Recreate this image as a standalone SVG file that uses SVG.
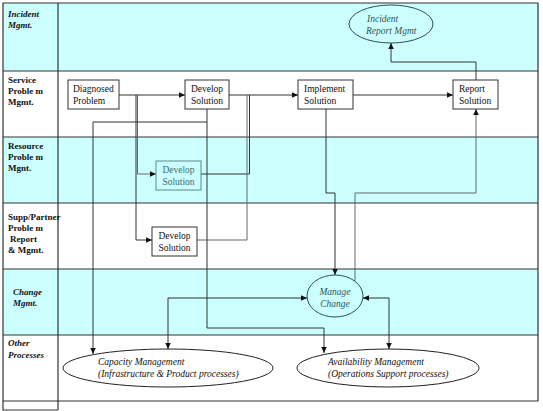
<svg xmlns="http://www.w3.org/2000/svg" width="543" height="411" viewBox="0 0 543 411">
<style>
.lane{fill:#CCFFFF;stroke:none}
.border{stroke:#333;stroke-width:1.2;fill:none}
.lab{font-family:"Liberation Serif","Times New Roman",serif;font-size:9px;font-weight:bold;fill:#111}
.labi{font-family:"Liberation Serif","Times New Roman",serif;font-size:9px;font-weight:bold;font-style:italic;fill:#111}
.box{fill:#fff;stroke:#333;stroke-width:1}
.boxc{fill:#CCFFFF;stroke:#5a8a8a;stroke-width:1}
.t{font-family:"Liberation Serif","Times New Roman",serif;font-size:9.5px;fill:#111}
.tc{font-family:"Liberation Serif","Times New Roman",serif;font-size:9.5px;fill:#3d6b6b}
.ti{font-family:"Liberation Serif","Times New Roman",serif;font-size:9.5px;font-style:italic;fill:#111}
.tic{font-family:"Liberation Serif","Times New Roman",serif;font-size:9.5px;font-style:italic;fill:#2f5555}
.ell{fill:#fff;stroke:#222;stroke-width:1}
.ellc{fill:#CCFFFF;stroke:#2f4f4f;stroke-width:1}
.c{fill:none;stroke:#333;stroke-width:1}
.cg{fill:none;stroke:#666;stroke-width:1}
.a{marker-end:url(#arr)}
.b{marker-start:url(#arr);marker-end:url(#arr)}
</style>
<defs>
<marker id="arr" markerUnits="userSpaceOnUse" markerWidth="7" markerHeight="6" refX="6" refY="2.75" orient="auto-start-reverse">
<path d="M0,0 L6,2.75 L0,5.5 z" fill="#111"/>
</marker>
</defs>
<g id="lanes">
<rect class="lane" x="3" y="3" width="535" height="68"/>
<rect class="lane" x="3" y="137" width="535" height="66"/>
<rect class="lane" x="3" y="269" width="535" height="66"/>
<path class="border" d="M3,3 H538 V401 H3 Z M3,71 H538 M3,137 H538 M3,203 H538 M3,269 H538 M3,335 H538 M58,3 V410 M3,401 V410 H58"/>
<text class="labi" x="8" y="17">Incident</text>
<text class="labi" x="8" y="28">Mgmt.</text>
<text class="lab" x="8" y="83">Service</text>
<text class="lab" x="8" y="94">Proble m</text>
<text class="lab" x="8" y="105">Mgmt.</text>
<text class="lab" x="8" y="149">Resource</text>
<text class="lab" x="8" y="160">Proble m</text>
<text class="lab" x="8" y="171">Mgnt.</text>
<text class="lab" x="8" y="220">Supp/Partner</text>
<text class="lab" x="8" y="231">Proble m</text>
<text class="lab" x="10" y="242">Report</text>
<text class="lab" x="8" y="253">&amp; Mgmt.</text>
<text class="labi" x="13" y="295">Change</text>
<text class="labi" x="13" y="306">Mgmt.</text>
<text class="labi" x="8" y="346">Other</text>
<text class="labi" x="8" y="358">Processes</text>
</g>
<g id="connectors">
<path class="c a" d="M119,95 H185"/>
<path class="c a" d="M229,95 H298"/>
<path class="c a" d="M353,95 H453"/>
<path class="c a" d="M476,80 V62 H391 V43"/>
<path class="c a" d="M136,95 V240 H152"/>
<path class="cg a" d="M137.5,95 V174 H156"/>
<path class="c" d="M201,174 H249.5 V95"/>
<path class="cg" d="M197,240 H247 V95"/>
<path class="c a" d="M207,109 V122 H93 V354"/>
<path class="c a" d="M207,122 V328 H324 V353"/>
<path class="c a" d="M326,109 V193 H335 V275"/>
<path class="cg a" d="M355,281 V193 H476 V109"/>
<path class="c b" d="M168,349 V298 H307"/>
<path class="c b" d="M363,298 H389 V349"/>
</g>
<g id="incident-report">
<ellipse class="ellc" cx="391" cy="24" rx="42" ry="19"/>
<text class="tic" x="367" y="22">Incident</text>
<text class="tic" x="366" y="34">Report Mgmt</text>
</g>
<g id="diagnosed">
<rect class="box" x="68" y="80" width="51" height="29"/>
<text class="t" x="73" y="92">Diagnosed</text>
<text class="t" x="73" y="104">Problem</text>
</g>
<g id="develop-service">
<rect class="box" x="185" y="80" width="44" height="29"/>
<text class="t" x="207" y="92" text-anchor="middle">Develop</text>
<text class="t" x="207" y="104" text-anchor="middle">Solution</text>
</g>
<g id="implement">
<rect class="box" x="298" y="80" width="55" height="29"/>
<text class="t" x="304" y="92">Implement</text>
<text class="t" x="304" y="104">Solution</text>
</g>
<g id="report">
<rect class="box" x="453" y="80" width="45" height="29"/>
<text class="t" x="459" y="92">Report</text>
<text class="t" x="459" y="104">Solution</text>
</g>
<g id="develop-resource">
<rect class="boxc" x="156" y="161" width="45" height="29"/>
<text class="tc" x="178.5" y="173" text-anchor="middle">Develop</text>
<text class="tc" x="178.5" y="185" text-anchor="middle">Solution</text>
</g>
<g id="develop-supp">
<rect class="box" x="152" y="227" width="45" height="29"/>
<text class="t" x="174.5" y="239" text-anchor="middle">Develop</text>
<text class="t" x="174.5" y="251" text-anchor="middle">Solution</text>
</g>
<g id="manage-change">
<ellipse class="ellc" cx="335" cy="296" rx="28" ry="21"/>
<text class="tic" x="335" y="295" text-anchor="middle">Manage</text>
<text class="tic" x="335" y="307" text-anchor="middle">Change</text>
</g>
<g id="capacity">
<ellipse class="ell" cx="168" cy="368" rx="105" ry="19"/>
<text class="ti" x="98" y="365">Capacity Management</text>
<text class="ti" x="98" y="377">(Infrastructure &amp; Product processes)</text>
</g>
<g id="availability">
<ellipse class="ell" cx="388" cy="368" rx="91" ry="19"/>
<text class="ti" x="328" y="365">Availability Management</text>
<text class="ti" x="328" y="377">(Operations Support processes)</text>
</g>
</svg>
